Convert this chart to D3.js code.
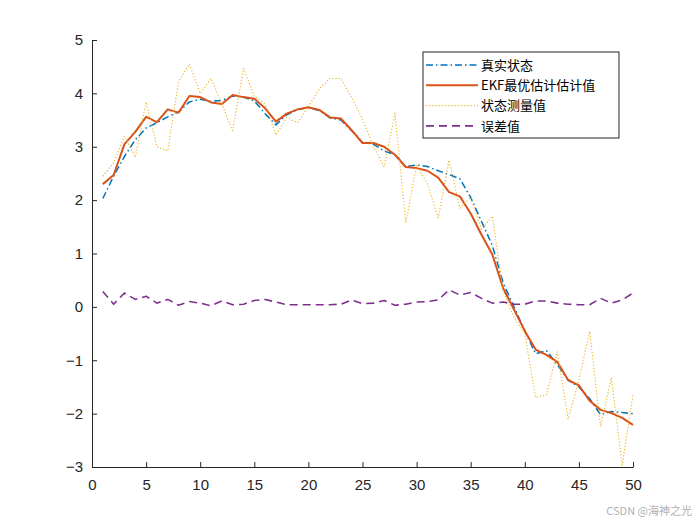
<!DOCTYPE html>
<html>
<head>
<meta charset="utf-8">
<script src="https://cdn.jsdelivr.net/npm/d3@7"></script>
<style>
  body { margin: 0; background: #fff; }
  svg { display: block; font-family: Arial, "Liberation Sans", sans-serif; }
  .axis path, .axis line { stroke: #262626; }
  .axis text { fill: #262626; font-size: 15px; }
  .legend text { font-family: "Noto Sans CJK SC", Arial, sans-serif; font-size: 13px; fill: #000; }
</style>
</head>
<body>
<div class="d3-wrapper"></div>
<script>
const MARGIN = { top: 40, right: 67, bottom: 58, left: 92 };
const OUTER_WIDTH = 700,
  OUTER_HEIGHT = 525,
  INNER_WIDTH = OUTER_WIDTH - MARGIN.left - MARGIN.right,
  INNER_HEIGHT = OUTER_HEIGHT - MARGIN.top - MARGIN.bottom;

// time steps 1..50
const steps = d3.range(1, 51);

const trueState = [
  2.03, 2.45, 2.82, 3.13, 3.35, 3.45, 3.56, 3.65, 3.84, 3.89,
  3.85, 3.87, 3.95, 3.93, 3.86, 3.62, 3.41, 3.6, 3.7, 3.73,
  3.68, 3.54, 3.5, 3.3, 3.08, 3.05, 2.92, 2.85, 2.63, 2.66,
  2.63, 2.55, 2.48, 2.4, 2.05, 1.6, 1.15, 0.45, 0.0, -0.45,
  -0.88, -0.82, -1.08, -1.37, -1.5, -1.72, -2.02, -1.96, -1.98, -2.0
];

const ekfEstimate = [
  2.3, 2.47, 3.05, 3.28, 3.56, 3.46, 3.7, 3.64, 3.95, 3.93,
  3.83, 3.8, 3.97, 3.93, 3.9, 3.72, 3.47, 3.62, 3.7, 3.74,
  3.69, 3.55, 3.53, 3.31, 3.07, 3.07, 3.0, 2.85, 2.62, 2.6,
  2.55, 2.42, 2.15, 2.07, 1.75, 1.35, 0.98, 0.35, -0.05, -0.45,
  -0.8, -0.9, -1.03, -1.37, -1.47, -1.76, -1.93, -1.99, -2.08, -2.21
];

const measured = [
  2.45, 2.7, 3.2, 2.8, 3.84, 3.0, 2.92, 4.22, 4.55, 4.0,
  4.28, 3.8, 3.3, 4.47, 3.95, 3.8, 3.22, 3.55, 3.45, 3.75,
  4.08, 4.28, 4.28, 3.92, 3.52, 3.0, 2.63, 3.63, 1.57, 2.66,
  2.3, 1.67, 2.75, 1.85, 2.05, 1.45, 1.7, 0.3, -0.2, -0.5,
  -1.7, -1.65, -0.84, -2.1, -1.37, -0.46, -2.24, -1.33, -2.96, -1.65
];

const errorVal = [
  0.29, 0.05, 0.26, 0.14, 0.2, 0.07, 0.14, 0.03, 0.1, 0.07,
  0.02, 0.11, 0.04, 0.05, 0.12, 0.14, 0.09, 0.04, 0.04, 0.04,
  0.04, 0.04, 0.05, 0.13, 0.06, 0.07, 0.12, 0.03, 0.05, 0.09,
  0.1, 0.13, 0.32, 0.22, 0.27, 0.16, 0.07, 0.09, 0.05, 0.05,
  0.11, 0.11, 0.07, 0.05, 0.04, 0.04, 0.16, 0.07, 0.13, 0.26
];

const xTicks = d3.range(0, 51, 5);
const yTicks = d3.range(-3, 6, 1);

const seriesNames = ['真实状态', 'EKF最优估计估计值', '状态测量值', '误差值'];
const seriesValues = [trueState, ekfEstimate, measured, errorVal];
const seriesStyles = [
  { color: '#0072BD', width: 1.5, dash: '7,3,1.5,3' },
  { color: '#D95319', width: 2, dash: null },
  { color: '#EDB120', width: 1.1, dash: '1.2,2' },
  { color: '#7E2F8E', width: 1.6, dash: '8,5' }
];

const xScale = d3.scaleLinear().domain([0, 50]).range([0, INNER_WIDTH]);
const yScale = d3.scaleLinear().domain([-3, 5]).range([INNER_HEIGHT, 0]);

const svg = d3.select('.d3-wrapper').append('svg')
  .attr('width', OUTER_WIDTH)
  .attr('height', OUTER_HEIGHT)
  .append('g')
  .attr('transform', `translate(${MARGIN.left}, ${MARGIN.top})`);

const line = d3.line()
  .x((d, i) => xScale(steps[i]))
  .y(d => yScale(d));

seriesValues.forEach((vals, k) => {
  const st = seriesStyles[k];
  svg.append('path')
    .datum(vals)
    .attr('fill', 'none')
    .attr('stroke', st.color)
    .attr('stroke-width', st.width)
    .attr('stroke-dasharray', st.dash)
    .attr('stroke-linejoin', 'round')
    .attr('d', line);
});

// MATLAB style axes: ticks pointing inward, no box
const xAxis = d3.axisBottom(xScale)
  .tickValues(xTicks)
  .tickSizeInner(-5)
  .tickSizeOuter(0)
  .tickPadding(9);

const yAxis = d3.axisLeft(yScale)
  .tickValues(yTicks)
  .tickSizeInner(-5)
  .tickSizeOuter(0)
  .tickPadding(9);

svg.append('g')
  .attr('class', 'axis')
  .attr('transform', `translate(0, ${INNER_HEIGHT})`)
  .call(xAxis)
  .call(g => g.selectAll('text').attr('dy', '0.9em'));

svg.append('g')
  .attr('class', 'axis')
  .call(yAxis);

// legend
const legend = svg.append('g')
  .attr('class', 'legend')
  .attr('transform', `translate(${423 - MARGIN.left}, ${52 - MARGIN.top})`);

legend.append('rect')
  .attr('width', 196)
  .attr('height', 86)
  .attr('fill', '#fff')
  .attr('stroke', '#262626')
  .attr('stroke-width', 1);

seriesNames.forEach((name, k) => {
  const st = seriesStyles[k];
  const yy = 13 + k * 20.3;
  legend.append('line')
    .attr('x1', 3).attr('x2', 55)
    .attr('y1', yy).attr('y2', yy)
    .attr('stroke', st.color)
    .attr('stroke-width', st.width)
    .attr('stroke-dasharray', st.dash);
  legend.append('text')
    .attr('x', 58)
    .attr('y', yy)
    .attr('dy', '0.36em')
    .text(name);
});

// watermark
d3.select('svg').append('text')
  .attr('x', 692)
  .attr('y', 515)
  .attr('text-anchor', 'end')
  .attr('font-family', '"Noto Sans CJK SC", sans-serif')
  .attr('font-size', 11)
  .attr('fill', '#b0b0b0')
  .text('CSDN @海神之光');
</script>
</body>
</html>
